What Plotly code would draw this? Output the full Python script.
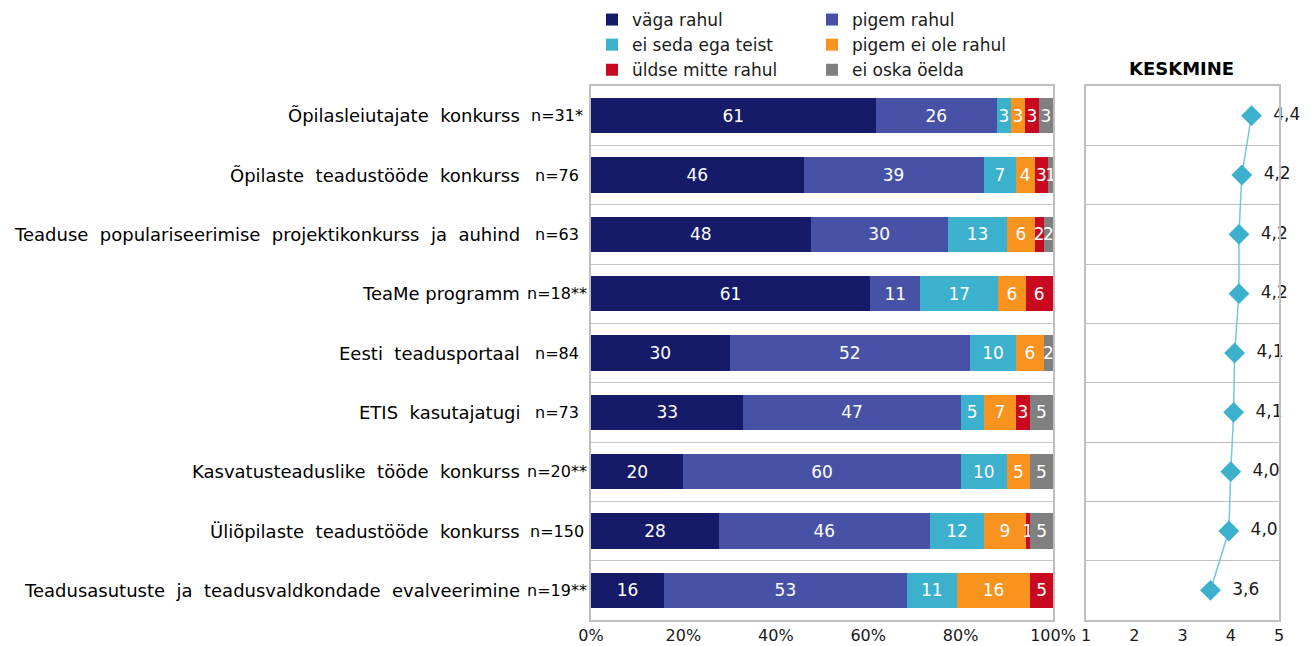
import plotly.graph_objects as go

categories = [
    "Õpilasleiutajate  konkurss",
    "Õpilaste  teadustööde  konkurss",
    "Teaduse  populariseerimise  projektikonkurss  ja  auhind",
    "TeaMe programm",
    "Eesti  teadusportaal",
    "ETIS  kasutajatugi",
    "Kasvatusteaduslike  tööde  konkurss",
    "Üliõpilaste  teadustööde  konkurss",
    "Teadusasutuste  ja  teadusvaldkondade  evalveerimine",
]
n_labels = ["n=31*", "n=76", "n=63", "n=18**", "n=84", "n=73", "n=20**", "n=150", "n=19**"]

series_names = ["väga rahul", "pigem rahul", "ei seda ega teist",
                "pigem ei ole rahul", "üldse mitte rahul", "ei oska öelda"]
series_colors = ["#151B68", "#4752A6", "#3BB1CD", "#F7931E", "#C9091F", "#808080"]

vaga_rahul = [61, 46, 48, 61, 30, 33, 20, 28, 16]
pigem_rahul = [26, 39, 30, 11, 52, 47, 60, 46, 53]
ei_seda = [3, 7, 13, 17, 10, 5, 10, 12, 11]
pigem_ei = [3, 4, 6, 6, 6, 7, 5, 9, 16]
uldse_mitte = [3, 3, 2, 6, 0, 3, 0, 1, 5]
ei_oska = [3, 1, 2, 0, 2, 5, 5, 5, 0]
series_values = [vaga_rahul, pigem_rahul, ei_seda, pigem_ei, uldse_mitte, ei_oska]

keskmine = [4.43, 4.23, 4.17, 4.17, 4.08, 4.06, 4.0, 3.96, 3.58]

x_ticks_pct = [0, 20, 40, 60, 80, 100]
x_ticks_mean = [1, 2, 3, 4, 5]

FONT = "DejaVu Sans"
W, H = 1314, 646
pos = list(range(len(categories)))

fig = go.Figure()
for i, (name, color, vals) in enumerate(zip(series_names, series_colors, series_values)):
    fig.add_trace(go.Bar(
        y=pos, x=vals, orientation="h", name=name,
        marker=dict(color=color, line=dict(width=0)),
        text=[str(v) if v > 0 else "" for v in vals],
        textposition="inside", insidetextanchor="middle",
        textfont=dict(color="white", size=17, family=FONT),
        width=0.6, xaxis="x", yaxis="y",
        legend="legend" if i % 2 == 0 else "legend2",
        hoverinfo="skip",
    ))

fig.add_trace(go.Scatter(
    x=keskmine, y=pos, mode="lines+markers+text",
    line=dict(color="#74C7DD", width=1.5),
    marker=dict(symbol="diamond", size=16, color="#3BB1CD"),
    text=["  " + f"{v:.1f}".replace(".", ",") for v in keskmine],
    textposition="middle right", cliponaxis=False,
    textfont=dict(size=17, family=FONT, color="#1a1a1a"),
    xaxis="x2", yaxis="y2", showlegend=False, hoverinfo="skip",
))

y_dom = [1 - 620 / H, 1 - 86 / H]
grid_vals = [i + 0.5 for i in range(len(categories) - 1)]
axis_common = dict(showline=True, linecolor="#BFBFBF", linewidth=2, mirror=True,
                   zeroline=False)
legend_common = dict(y=1 - 2 / H, xanchor="left", yanchor="top", orientation="v",
                     font=dict(size=17, family=FONT, color="#1a1a1a"),
                     itemwidth=30, tracegroupgap=0, traceorder="normal",
                     bgcolor="rgba(0,0,0,0)")

fig.update_layout(
    width=W, height=H, autosize=False,
    margin=dict(l=0, r=0, t=0, b=0, autoexpand=False),
    paper_bgcolor="white", plot_bgcolor="white",
    barmode="stack", barnorm="percent",
    font=dict(family=FONT, size=16, color="#1a1a1a"),
    uniformtext=dict(minsize=17, mode="show"),
    xaxis=dict(domain=[591 / W, 1053 / W], range=[0, 100], tickvals=x_ticks_pct,
               ticktext=[f"{v}%" for v in x_ticks_pct], showgrid=False,
               ticks="", tickfont=dict(size=16), **axis_common),
    yaxis=dict(domain=y_dom, range=[len(categories) - 0.5, -0.5], tickvals=grid_vals,
               showticklabels=False, showgrid=True, gridcolor="#C8C8C8", gridwidth=1,
               ticks="", **axis_common),
    xaxis2=dict(domain=[1086 / W, 1279 / W], range=[1, 5], tickvals=x_ticks_mean,
                showgrid=False, ticks="", tickfont=dict(size=16), anchor="y2",
                **axis_common),
    yaxis2=dict(domain=y_dom, range=[len(categories) - 0.5, -0.5], tickvals=grid_vals,
                showticklabels=False, showgrid=True, gridcolor="#BFBFBF", gridwidth=1,
                ticks="", anchor="x2", **axis_common),
    legend=dict(x=592 / W, **legend_common),
    legend2=dict(x=812 / W, **legend_common),
)

annotations = []
for i, (cat, n) in enumerate(zip(categories, n_labels)):
    annotations.append(dict(x=522 / W, y=i, xref="paper", yref="y", text=cat,
                            showarrow=False, xanchor="right", yanchor="middle",
                            font=dict(size=18, family=FONT, color="#000000")))
    annotations.append(dict(x=557 / W, y=i, xref="paper", yref="y", text=n,
                            showarrow=False, xanchor="center", yanchor="middle",
                            font=dict(size=16, family=FONT, color="#000000")))
annotations.append(dict(x=1181 / W, y=1 - 68 / H, xref="paper", yref="paper",
                        text="<b>KESKMINE</b>", showarrow=False, xanchor="center",
                        yanchor="middle", font=dict(size=18, family=FONT, color="#000000")))
fig.update_layout(annotations=annotations)

fig.write_html("out.html", config={"displayModeBar": False},
               post_script="document.body.style.margin='0';document.body.style.overflow='hidden';")
